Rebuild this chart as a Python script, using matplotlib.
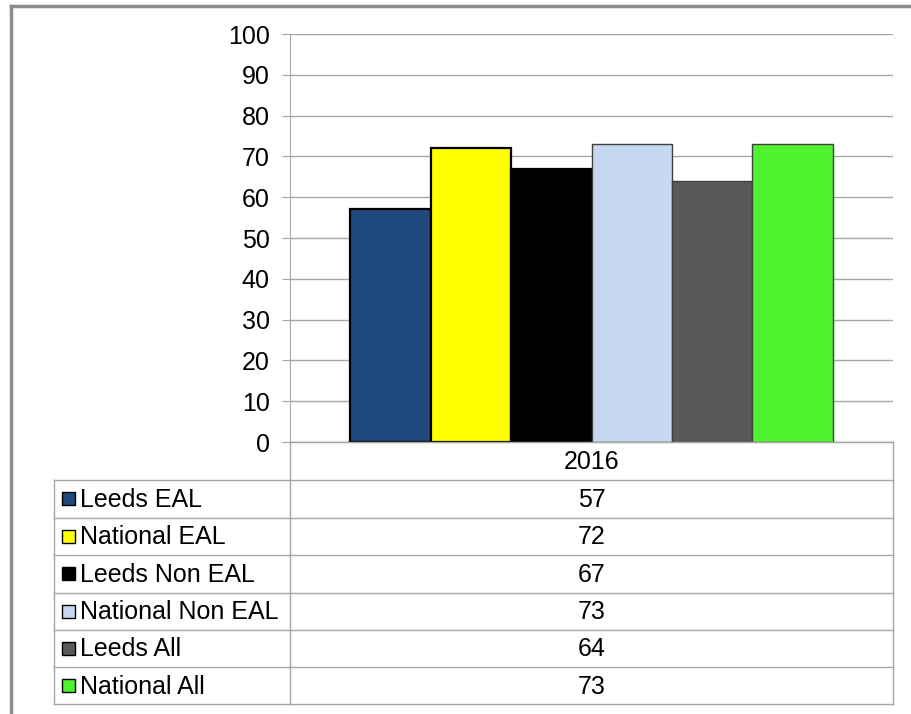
import matplotlib
matplotlib.use("Agg")
import matplotlib.pyplot as plt
from matplotlib.lines import Line2D
from matplotlib.patches import Rectangle

categories = ["2016"]
series = ["Leeds EAL", "National EAL", "Leeds Non EAL", "National Non EAL", "Leeds All", "National All"]
values = [57, 72, 67, 73, 64, 73]
colors = ["#1F497D", "#FFFF00", "#000000", "#C6D9F0", "#595959", "#50F230"]
edges = ["#000000", "#000000", "#000000", "#404040", "#404040", "#404040"]
edge_w = [1.6, 1.6, 1.6, 1.0, 1.0, 1.0]
yticks = list(range(0, 101, 10))

W, H = 911, 714
FS = 18
plt.rcParams['font.family'] = ['Liberation Sans', 'DejaVu Sans']
fig = plt.figure(figsize=(W / 100, H / 100), dpi=100)

GRID = "#A6A6A6"
L, R, T, B = 290, 893, 34, 442
ax = fig.add_axes([L / W, 1 - B / H, (R - L) / W, (B - T) / H])
ax.set_ylim(0, 100)
ax.set_xlim(-0.5, 0.5)
n = len(series)
bw = 0.8 / n
for i, (s, v, c, e, lw) in enumerate(zip(series, values, colors, edges, edge_w)):
    x = -0.4 + bw * (i + 0.5)
    ax.bar(x, v, width=bw, color=c, edgecolor=e, linewidth=lw, zorder=3)
ax.set_yticks(yticks)
ax.set_yticklabels([str(t) for t in yticks], fontsize=FS)
ax.yaxis.grid(True, color=GRID, linewidth=1.0, zorder=0)
ax.set_xticks([])
for sp in ["top", "right"]:
    ax.spines[sp].set_visible(False)
ax.spines["left"].set_color(GRID)
ax.spines["bottom"].set_color(GRID)
ax.tick_params(axis="y", direction="out", length=6, color=GRID, pad=8.5, labelsize=FS)

# table / legend drawn in pixel coordinates
tx = fig.add_axes([0, 0, 1, 1], zorder=5)
tx.set_xlim(0, W)
tx.set_ylim(H, 0)
tx.axis("off")
tx.patch.set_alpha(0)

row_y = [480, 517.5, 555, 592.5, 630, 667, 704]
tl = 54
for y in row_y:
    tx.add_line(Line2D([tl, R], [y, y], color=GRID, lw=1.0))
tx.add_line(Line2D([L, R], [B, B], color=GRID, lw=1.0))
tx.add_line(Line2D([L, L], [B, row_y[-1]], color=GRID, lw=1.0))
tx.add_line(Line2D([R, R], [B, row_y[-1]], color=GRID, lw=1.0))
tx.add_line(Line2D([tl, tl], [row_y[0], row_y[-1]], color=GRID, lw=1.0))

cx = (L + R) / 2
tx.text(cx, (B + row_y[0]) / 2 + 1, categories[0], ha="center", va="center", fontsize=FS)
for i, (s, v, c) in enumerate(zip(series, values, colors)):
    yc = (row_y[i] + row_y[i + 1]) / 2
    tx.add_patch(Rectangle((62, yc - 6.5), 13, 13, facecolor=c, edgecolor="#000000", lw=1.0))
    tx.text(80, yc + 1, s, ha="left", va="center", fontsize=FS)
    tx.text(cx, yc + 1, str(v), ha="center", va="center", fontsize=FS)

# outer chart border
BORDER = "#8C8C8C"
tx.add_line(Line2D([11, 11], [6, H], color=BORDER, lw=2.5))
tx.add_line(Line2D([11, W], [6, 6], color=BORDER, lw=2.5))

fig.savefig("out.png", dpi=100)
